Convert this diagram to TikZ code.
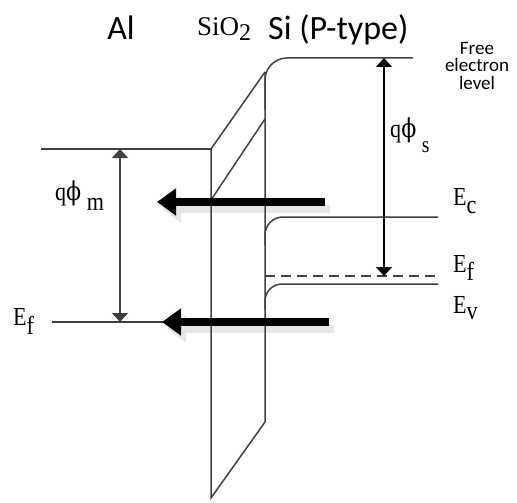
\documentclass[tikz,border=0pt]{standalone}
\usepackage{fontspec}
\setmainfont{Liberation Serif}
\newfontfamily\calibri{Carlito}
\newfontfamily\lblfont[FakeStretch=0.85]{Liberation Serif}
\newfontfamily\phifont[FakeStretch=0.85]{DejaVu Serif}
\usetikzlibrary{arrows.meta}
\definecolor{BandGrey}{RGB}{64,64,64}
\definecolor{ShadowGrey}{RGB}{230,230,230}
\newcommand{\lowsub}[2][8pt]{\raisebox{-#1}{#2}}

\begin{document}
\begin{tikzpicture}[x=1pt, y=-1pt,
    band/.style={BandGrey, line width=1.5pt},
    lbl/.style={inner sep=0pt, font=\lblfont\fontsize{26}{26}\selectfont},
    head/.style={inner sep=0pt, font=\calibri\fontsize{34}{34}\selectfont},
    bigarrow/.style={line width=8pt, -{Triangle[length=19pt,width=26pt]}},
    gap/.style={line width=1.5pt, {Triangle[length=9pt,width=16pt]}-{Triangle[length=9pt,width=16pt]}}]
    \useasboundingbox (0,0) rectangle (517,503);

    % Key points
    \coordinate (mvac) at (120,149);
    \coordinate (mfermi) at (120,322);
    \coordinate (svac) at (384,58);
    \coordinate (sfermi) at (384,276);
    \coordinate (tailA) at (325,202);
    \coordinate (tipA) at (157,202);
    \coordinate (tailB) at (329,322);
    \coordinate (tipB) at (162,322);

    % Shadows of the electron flow arrows
    \draw[bigarrow, ShadowGrey, transform canvas={shift={(5,7)}}] (tailA) -- (tipA);
    \draw[bigarrow, ShadowGrey, transform canvas={shift={(5,7)}}] (tailB) -- (tipB);

    % Metal levels
    \draw[band] (41,149) -- (211,149);
    \draw[band] (52,322) -- (211,322);

    % Oxide
    \draw[band] (211,149) -- (265,72);
    \draw[band] (211,200) -- (265,119);
    \draw[band] (211,149) -- (211,498) -- (265,422) -- (265,72);

    % Semiconductor bands
    \draw[band, rounded corners=22pt] (265,110) |- (413,58);
    \draw[band, rounded corners=18pt] (265,245) |- (438,217);
    \draw[band, rounded corners=17pt] (265,310) |- (438,284);
    \draw[band, dash pattern=on 10pt off 6pt] (265,276) -- (438,276);

    % Work functions
    \draw[gap, BandGrey] (mvac) -- (mfermi);
    \draw[gap, black] (svac) -- (sfermi);

    % Electron flow arrows
    \draw[bigarrow, black] (tailA) -- (tipA);
    \draw[bigarrow, black] (tailB) -- (tipB);

    % Labels
    \node[head, anchor=base] (al) at (121,40) {Al};
    \node[inner sep=0pt, anchor=base west, font=\fontsize{27}{27}\selectfont] (sio2) at (197,36)
        {SiO\lowsub[5pt]{\fontsize{24}{24}\selectfont 2}};
    \node[head, anchor=base west] (si) at (268,40) {Si (P-type)};
    \node[inner sep=0pt, anchor=north, align=center, font=\calibri\fontsize{19}{17.5}\selectfont] (free) at (477,42)
        {Free\\electron\\level};
    \node[lbl, anchor=base west] (phim) at (55,200) {q{\phifont ϕ} \lowsub[10pt]{m}};
    \node[lbl, anchor=base west] (phis) at (390,137) {q{\phifont ϕ} \lowsub[15pt]{\fontsize{23}{23}\selectfont s}};
    \node[lbl, anchor=base west] (ec) at (453,205) {E\lowsub{c}};
    \node[lbl, anchor=base west] (efs) at (453,272) {E\lowsub{f}};
    \node[lbl, anchor=base west] (ev) at (453,313) {E\lowsub[6pt]{v}};
    \node[lbl, anchor=base west] (efm) at (13,325) {E\lowsub[9pt]{f}};
\end{tikzpicture}
\end{document}
